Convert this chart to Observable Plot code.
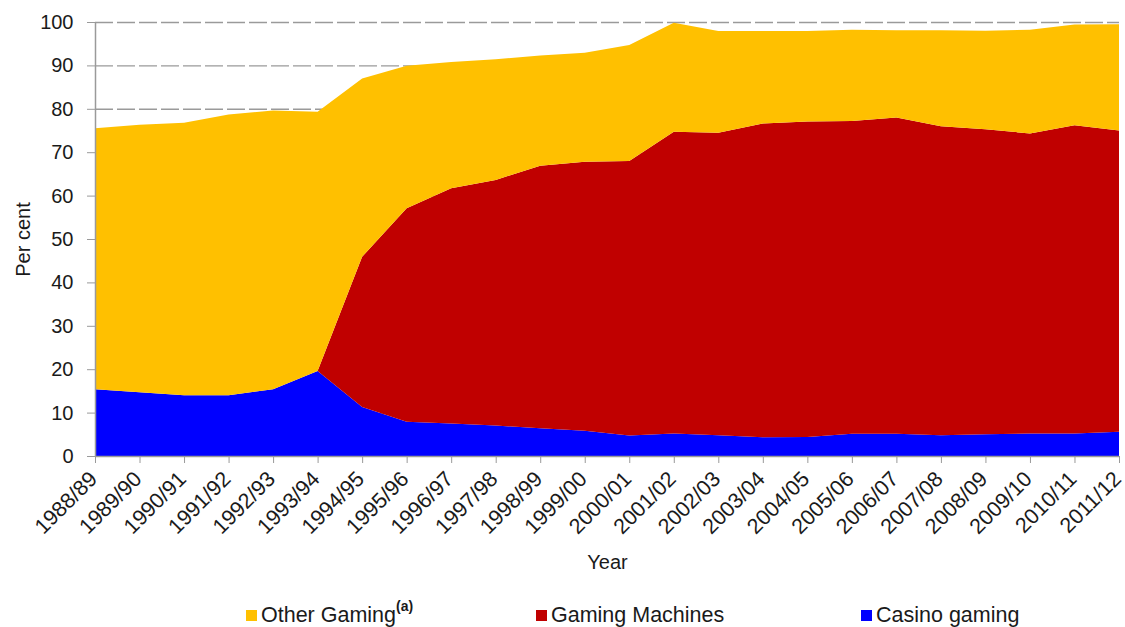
<!DOCTYPE html>
<html>
<head>
<meta charset="utf-8">
<script src="https://cdn.jsdelivr.net/npm/d3@7"></script>
<script src="https://cdn.jsdelivr.net/npm/@observablehq/plot@0.6"></script>
<style>
  body { margin: 0; background: #fff; font-family: "Liberation Sans", Arial, sans-serif; overflow: hidden; }
  #wrap { position: relative; width: 1125px; height: 627px; overflow: hidden; }
  #chart svg { display: block; }
  #legend { position: absolute; left: 0; top: 602px; width: 1125px; height: 25px; }
  .item { position: absolute; top: 0; font-size: 21.5px; line-height: 26px; color: #1a1a1a; white-space: nowrap; }
  .sw { display: inline-block; width: 11px; height: 11px; margin-right: 4px; vertical-align: 1px; }
  .item sup { font-size: 14px; font-weight: bold; vertical-align: 11px; line-height: 0; }
</style>
</head>
<body>
<div id="wrap">
  <div id="chart"></div>
  <div id="legend"></div>
</div>
<script>
// Share of gaming expenditure by type, per cent
const years = ["1988/89","1989/90","1990/91","1991/92","1992/93","1993/94","1994/95","1995/96",
  "1996/97","1997/98","1998/99","1999/00","2000/01","2001/02","2002/03","2003/04","2004/05",
  "2005/06","2006/07","2007/08","2008/09","2009/10","2010/11","2011/12"];

const casinoGaming   = [15.4,14.7,14.0,14.0,15.4,19.6,11.3,7.9,7.5,7.0,6.4,5.8,4.7,5.2,4.8,4.3,4.4,5.1,5.1,4.8,5.0,5.2,5.2,5.6];
const gamingMachines = [0,0,0,0,0,0,34.6,49.2,54.2,56.6,60.5,62.0,63.3,69.5,69.7,72.3,72.7,72.1,72.9,71.2,70.3,69.1,71.0,69.4];
const otherGaming    = [60.1,61.6,62.8,64.7,64.2,59.7,41.1,32.8,29.1,27.8,25.4,25.1,26.7,25.1,23.4,21.3,20.8,21.0,20.1,22.1,22.7,23.9,23.2,24.5];

// stacking order, bottom to top
const seriesNames  = ["Casino gaming", "Gaming Machines", "Other Gaming"];
const seriesColors = ["#0000ff", "#c00000", "#ffc000"];
const seriesValues = [casinoGaming, gamingMachines, otherGaming];

const yTicks = d3.range(0, 101, 10);

const rows = seriesNames.flatMap((name, i) =>
  years.map((year, j) => ({ year, series: name, value: seriesValues[i][j] }))
);

const font = "'Liberation Sans', Arial, sans-serif";

const chart = Plot.plot({
  width: 1125,
  height: 600,
  marginLeft: 95,
  marginRight: 6,
  marginTop: 22,
  marginBottom: 144,
  style: { fontFamily: font, fontSize: "20px", color: "#1a1a1a", background: "#fff" },
  x: { type: "point", domain: years, padding: 0, round: false },
  y: { domain: [0, 100] },
  color: { domain: seriesNames, range: seriesColors },
  marks: [
    Plot.gridY(yTicks.slice(1), { stroke: "#9a9a9a", strokeOpacity: 1, strokeWidth: 1.4, strokeDasharray: "18,4" }),
    Plot.areaY(rows, { x: "year", y: "value", fill: "series", order: seriesNames }),
    Plot.ruleX([years[0]], { stroke: "#9a9a9a", strokeWidth: 1.5 }),
    Plot.ruleY([0], { stroke: "#9a9a9a", strokeWidth: 1.5 }),
    Plot.axisY(yTicks, { tickSize: 8, tickPadding: 14, stroke: "#9a9a9a", fontSize: 20, label: null }),
    // tick marks only
    Plot.axisX({ tickSize: 7, tickFormat: () => "", stroke: "#9a9a9a", label: null }),
    // rotated year labels
    Plot.axisX({ tickSize: 0, tickPadding: 12, tickRotate: -45, fontSize: 21.5, dx: -2, dy: 7, label: null }),
    Plot.text(["Year"], { text: d => d, frameAnchor: "bottom", lineAnchor: "middle", dy: 106, fontSize: 20 }),
    Plot.text(["Per cent"], { text: d => d, frameAnchor: "left", textAnchor: "middle", lineAnchor: "middle", dx: -72, rotate: -90, fontSize: 20 })
  ]
});
document.getElementById("chart").appendChild(chart);

// legend below the chart
const legendItems = [
  { name: "Other Gaming", color: "#ffc000", note: "(a)", left: 246 },
  { name: "Gaming Machines", color: "#c00000", note: "", left: 536 },
  { name: "Casino gaming", color: "#0000ff", note: "", left: 861 }
];
const legend = document.getElementById("legend");
for (const it of legendItems) {
  const el = document.createElement("div");
  el.className = "item";
  el.style.left = it.left + "px";
  el.innerHTML = `<span class="sw" style="background:${it.color}"></span>${it.name}` +
    (it.note ? `<sup>${it.note}</sup>` : "");
  legend.appendChild(el);
}
</script>
</body>
</html>
